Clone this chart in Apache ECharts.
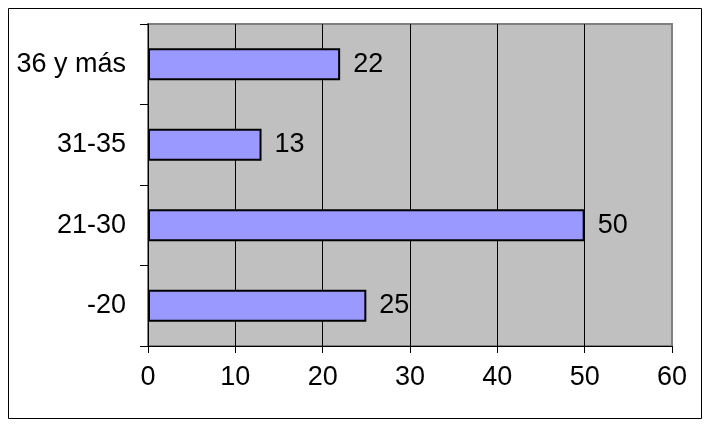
<!DOCTYPE html>
<html>
<head>
<meta charset="utf-8">
<script src="https://cdn.jsdelivr.net/npm/echarts@6/dist/echarts.min.js"></script>
<style>
html,body{margin:0;padding:0;background:#fff;}
#c{width:713px;height:433px;}
</style>
</head>
<body>
<div id="c"></div>
<script>
// Categories bottom-to-top
var categories = ['-20', '21-30', '31-35', '36 y más'];
var values = [25, 50, 13, 22];
var xTicks = [0, 60, 10];

var chart = echarts.init(document.getElementById('c'));
var font = '"Liberation Sans", Arial, sans-serif';
chart.setOption({
  animation: false,
  graphic: [{
    type: 'rect',
    shape: {x: 8.5, y: 8.5, width: 693, height: 410},
    style: {fill: 'none', stroke: '#000', lineWidth: 1},
    z: -10
  }],
  grid: {
    left: 148, top: 24, right: 41, bottom: 87,
    show: true, backgroundColor: '#C0C0C0', borderColor: '#808080', borderWidth: 2
  },
  xAxis: {
    type: 'value', min: xTicks[0], max: xTicks[1], interval: xTicks[2],
    axisLine: {show: true, lineStyle: {color: '#000', width: 1}},
    axisTick: {show: true, length: 7, lineStyle: {color: '#000'}},
    axisLabel: {color: '#000', fontSize: 27, fontFamily: font, margin: 18},
    splitLine: {show: true, lineStyle: {color: ['#000','#000','#000','#000','#000','#000','#808080'], width: 1}}
  },
  yAxis: {
    type: 'category', data: categories,
    axisLine: {show: true, lineStyle: {color: '#000', width: 1}},
    axisTick: {show: true, length: 8, alignWithLabel: false, lineStyle: {color: '#000'}},
    axisLabel: {color: '#000', fontSize: 27, fontFamily: font, margin: 22}
  },
  series: [{
    type: 'bar', data: values, barWidth: 32,
    itemStyle: {color: '#9999FF', borderColor: '#000', borderWidth: 2},
    label: {show: true, position: 'right', distance: 13, color: '#000', fontSize: 27, fontFamily: font}
  }]
});
</script>
</body>
</html>
